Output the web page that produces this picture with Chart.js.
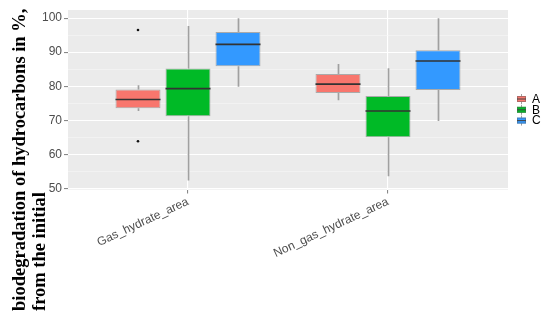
<!DOCTYPE html>
<html>
<head>
<meta charset="utf-8">
<script src="https://cdn.jsdelivr.net/npm/chart.js@4.4.1/dist/chart.umd.min.js"></script>
<style>
  html, body { margin: 0; padding: 0; background: #ffffff; }
  #wrap { width: 550px; height: 322px; }
</style>
</head>
<body>
<div id="wrap"><canvas id="c" width="550" height="322"></canvas></div>
<script>
// ---- data ----
const categories = ['Gas_hydrate_area', 'Non_gas_hydrate_area'];
const seriesNames = ['A', 'B', 'C'];
const seriesColors = ['#F8766D', '#00BA26', '#3399FF'];
// each array: [series][category]
const whiskerLow  = [[72.7, 75.9], [52.3, 53.5], [79.8, 69.8]];
const q1          = [[73.5, 78.0], [71.2, 65.0], [85.9, 78.9]];
const median      = [[76.1, 80.6], [79.3, 72.7], [92.3, 87.4]];
const q3          = [[79.0, 83.6], [85.2, 77.1], [95.9, 90.6]];
const whiskerHigh = [[80.3, 86.5], [97.7, 85.3], [100.0, 100.0]];
const outliers    = [[[96.5, 63.8], []], [[], []], [[], []]];
const yTickValues = [50, 55, 60, 65, 70, 75, 80, 85, 90, 95, 100];
const yTitleLines = ['biodegradation of hydrocarbons in %,', 'from the initial'];

const WHISKER = '#a0a0a0';

const panelBg = {
  id: 'panelBg',
  beforeDraw(chart) {
    const {ctx, chartArea: a} = chart;
    ctx.save();
    ctx.fillStyle = '#EBEBEB';
    ctx.fillRect(a.left, a.top, a.right - a.left, a.bottom - a.top);
    ctx.restore();
  }
};

const boxParts = {
  id: 'boxParts',
  beforeDatasetsDraw(chart) {
    const {ctx} = chart;
    const y = chart.scales.y;
    ctx.save();
    ctx.strokeStyle = WHISKER;
    ctx.lineWidth = 1.7;
    seriesNames.forEach((s, i) => {
      const meta = chart.getDatasetMeta(i);
      meta.data.forEach((bar, j) => {
        const x = Math.round(bar.x) + 0.5;
        ctx.beginPath();
        ctx.moveTo(x, y.getPixelForValue(whiskerHigh[i][j]));
        ctx.lineTo(x, y.getPixelForValue(q3[i][j]));
        ctx.moveTo(x, y.getPixelForValue(q1[i][j]));
        ctx.lineTo(x, y.getPixelForValue(whiskerLow[i][j]));
        ctx.stroke();
      });
    });
    ctx.restore();
  },
  afterDatasetsDraw(chart) {
    const {ctx} = chart;
    const y = chart.scales.y;
    ctx.save();
    seriesNames.forEach((s, i) => {
      const meta = chart.getDatasetMeta(i);
      meta.data.forEach((bar, j) => {
        const half = bar.width / 2;
        const ym = y.getPixelForValue(median[i][j]);
        ctx.strokeStyle = '#333333';
        ctx.lineWidth = 1.6;
        ctx.beginPath();
        ctx.moveTo(bar.x - half, ym);
        ctx.lineTo(bar.x + half, ym);
        ctx.stroke();
        ctx.fillStyle = '#111111';
        outliers[i][j].forEach(v => {
          ctx.beginPath();
          ctx.arc(bar.x, y.getPixelForValue(v), 1.3, 0, Math.PI * 2);
          ctx.fill();
        });
      });
    });
    ctx.restore();
  }
};

const extras = {
  id: 'extras',
  afterDraw(chart) {
    const {ctx} = chart;
    ctx.save();
    // y axis title (rotated, left-aligned lines)
    ctx.translate(20, 311);
    ctx.rotate(-Math.PI / 2);
    ctx.fillStyle = '#000000';
    ctx.font = 'bold 18.5px "Liberation Serif", "Times New Roman", serif';
    ctx.textAlign = 'left';
    ctx.textBaseline = 'middle';
    yTitleLines.forEach((t, k) => ctx.fillText(t, 0, k * 20));
    ctx.restore();

    // legend
    ctx.save();
    seriesNames.forEach((s, i) => {
      const cy = 99 + i * 10.8;
      const kx = 517, kw = 9, kh = 6;
      ctx.strokeStyle = WHISKER;
      ctx.lineWidth = 1;
      ctx.beginPath();
      ctx.moveTo(kx + kw / 2, cy - 5);
      ctx.lineTo(kx + kw / 2, cy + 5);
      ctx.stroke();
      ctx.fillStyle = seriesColors[i];
      ctx.fillRect(kx, cy - kh / 2, kw, kh);
      ctx.strokeStyle = 'rgba(90,90,90,0.45)';
      ctx.strokeRect(kx + 0.5, cy - kh / 2 + 0.5, kw - 1, kh - 1);
      ctx.strokeStyle = '#444';
      ctx.beginPath();
      ctx.moveTo(kx, cy);
      ctx.lineTo(kx + kw, cy);
      ctx.stroke();
      ctx.fillStyle = '#000000';
      ctx.font = '12px "Liberation Sans", Arial, sans-serif';
      ctx.textAlign = 'left';
      ctx.textBaseline = 'middle';
      ctx.fillText(s, 532, cy + 0.5);
    });
    ctx.restore();
  }
};

const datasets = seriesNames.map((name, i) => ({
  label: name,
  data: categories.map((c, j) => ({x: j + 1, y: [q1[i][j], q3[i][j]]})),
  backgroundColor: seriesColors[i],
  borderColor: 'rgba(90,90,90,0.45)',
  borderWidth: 1,
  borderSkipped: false,
  categoryPercentage: 0.75,
  barPercentage: 0.9
}));

new Chart(document.getElementById('c'), {
  type: 'bar',
  data: { datasets },
  plugins: [panelBg, boxParts, extras],
  options: {
    responsive: false,
    animation: false,
    devicePixelRatio: 1,
    layout: { padding: { top: 10, right: 42, bottom: 0, left: 0 } },
    plugins: { legend: { display: false }, tooltip: { enabled: false } },
    scales: {
      x: {
        type: 'linear',
        min: 0.4,
        max: 2.6,
        offset: false,
        afterBuildTicks(scale) { scale.ticks = categories.map((c, j) => ({ value: j + 1 })); },
        afterFit(scale) { scale.height = 132.4; },
        ticks: {
          autoSkip: false,
          minRotation: 25,
          maxRotation: 25,
          padding: 1,
          color: '#4D4D4D',
          font: { family: '"Liberation Sans", Arial, sans-serif', size: 12 },
          callback: (v) => categories[Math.round(v) - 1]
        },
        grid: { offset: false, color: '#FFFFFF', lineWidth: 1.1, tickColor: '#888888', tickLength: 4 },
        border: { display: false }
      },
      y: {
        type: 'linear',
        min: 49.6,
        max: 102.4,
        afterBuildTicks(scale) { scale.ticks = yTickValues.map(v => ({ value: v })); },
        afterFit(scale) { scale.width = 68; },
        ticks: {
          padding: 2,
          color: '#4D4D4D',
          font: { family: '"Liberation Sans", Arial, sans-serif', size: 12 },
          callback: (v) => (v % 10 === 0 ? String(v) : '')
        },
        grid: {
          color: (ctx) => (ctx.tick && ctx.tick.value % 10 === 0 ? '#FFFFFF' : '#F6F6F6'),
          lineWidth: (ctx) => (ctx.tick && ctx.tick.value % 10 === 0 ? 1.1 : 0.6),
          tickColor: (ctx) => (ctx.tick && ctx.tick.value % 10 === 0 ? '#888888' : 'rgba(0,0,0,0)'),
          tickLength: 4
        },
        border: { display: false }
      }
    }
  }
});
</script>
</body>
</html>
